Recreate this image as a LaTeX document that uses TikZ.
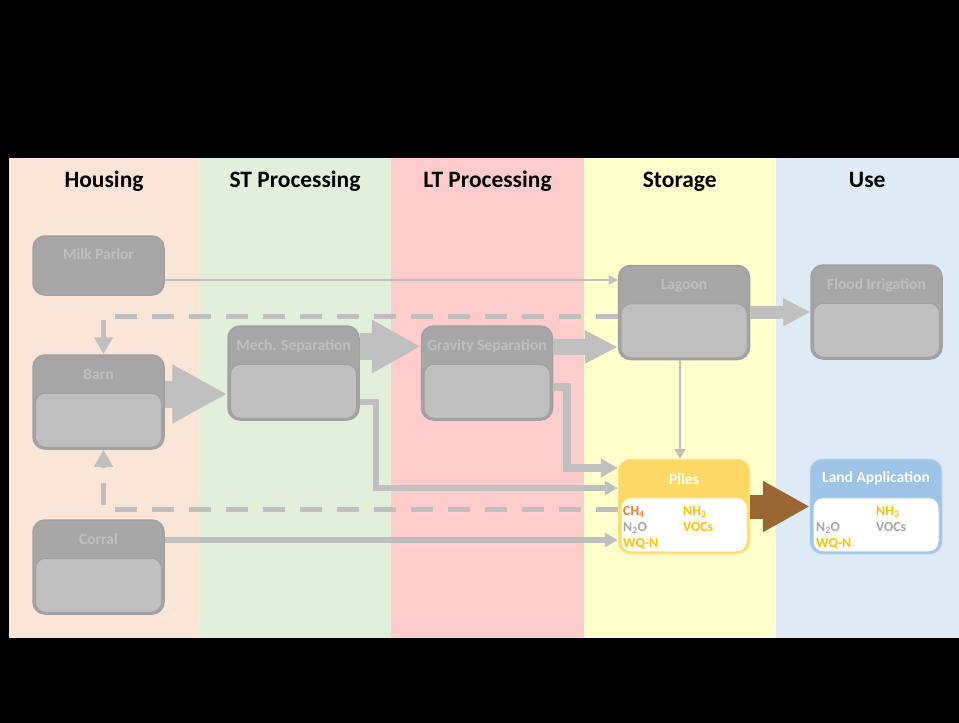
\documentclass[tikz,border=0pt]{standalone}
\usepackage{fontspec}
\setmainfont{Carlito}
\usetikzlibrary{arrows.meta}

\definecolor{colhousing}{HTML}{FBE5D6}
\definecolor{colst}{HTML}{E2EFDA}
\definecolor{collt}{HTML}{FFCCCC}
\definecolor{colstorage}{HTML}{FFFFCC}
\definecolor{coluse}{HTML}{DEEBF7}
\definecolor{boxdark}{HTML}{A6A6A6}
\definecolor{boxedge}{HTML}{A0A0A0}
\definecolor{boxlight}{HTML}{BFBFBF}
\definecolor{arrowgrey}{HTML}{BFBFBF}
\definecolor{pilehead}{HTML}{FFD966}
\definecolor{pileedge}{HTML}{FFE180}
\definecolor{landhead}{HTML}{9DC3E6}
\definecolor{landedge}{HTML}{A9CBEA}
\definecolor{gasorange}{HTML}{ED7D31}
\definecolor{gasyellow}{HTML}{FFC000}
\definecolor{gasgrey}{HTML}{A6A6A6}
\definecolor{manure}{HTML}{996633}

\tikzset{
  colhead/.style={font=\fontsize{23.5}{26}\selectfont\bfseries, text=black, anchor=base},
  outerbox/.style={rounded corners=12pt, fill=boxdark, draw=boxedge, line width=1.5pt,
    minimum width=131pt, minimum height=94pt, inner sep=0pt},
  innerbox/.style={rounded corners=10pt, fill=boxlight, draw=boxedge, line width=1pt,
    minimum width=126pt, minimum height=54pt, inner sep=0pt, anchor=south},
  boxlabel/.style={font=\fontsize{15.5}{17}\selectfont\bfseries, text=boxlight, anchor=base},
  gas/.style={font=\fontsize{13.8}{15}\selectfont\bfseries, anchor=base west, inner sep=0pt},
  bigarrow/.style n args={3}{draw=arrowgrey, line width=#1, -{Triangle[length=#2, width=#3]}},
  pipe/.style n args={3}{draw=arrowgrey, line width=#1, -{Triangle[length=#2, width=#3]}},
  dashline/.style={draw=arrowgrey, line width=5pt, dash pattern=on 22pt off 15pt,
    -{Triangle[length=17pt, width=18pt]}}
}

\begin{document}
\begin{tikzpicture}[x=1pt,y=-1pt]
\fill[black] (0,0) rectangle (959,723);

% stage columns
\foreach \xa/\xb/\col/\t in {9/199/colhousing/Housing, 199/391/colst/ST Processing,
    391/584/collt/LT Processing, 584/775.5/colstorage/Storage, 775.5/959/coluse/Use}{
  \fill[\col] (\xa,158) rectangle (\xb,638);
  \node[colhead] (head-\col) at ({(\xa+\xb)/2},187) {\t};
}

% grey process boxes
\node[outerbox, minimum height=59pt] (milk) at (98.5,265.5) {};
\node[boxlabel] (milk-lbl) at ([yshift=-24pt]milk.north) {Milk Parlor};
\foreach \n/\x/\y/\t in {barn/98.5/402/Barn, corral/98.5/567/Corral,
    mech/293.5/373/Mech. Separation, grav/487/373/Gravity Separation,
    lagoon/684/312.5/Lagoon, flood/876.5/312/Flood Irrigation}{
  \node[outerbox] (\n) at (\x,\y) {};
  \node[innerbox] (\n-in) at ([yshift=2pt]\n.south) {};
  \node[boxlabel] (\n-lbl) at ([yshift=-25pt]\n.north) {\t};
}

% piles and land application
\node[outerbox, fill=pilehead, draw=pileedge] (piles) at (684,506.5) {};
\node[innerbox, fill=white, draw=pileedge] (piles-in) at ([yshift=2pt]piles.south) {};
\node[boxlabel, text=white] (piles-lbl) at ([yshift=-26pt]piles.north) {Piles};
\node[outerbox, fill=landhead, draw=landedge] (land) at (876,506.5) {};
\node[innerbox, fill=white, draw=landedge] (land-in) at ([yshift=2pt]land.south) {};
\node[boxlabel, text=white] (land-lbl) at ([yshift=-24pt]land.north) {Land Application};

\node[gas, text=gasorange] (p-ch4) at (623,515) {CH\textsubscript{4}};
\node[gas, text=gasyellow] (p-nh3) at (683,515) {NH\textsubscript{3}};
\node[gas, text=gasgrey] (p-n2o) at (623,531) {N\textsubscript{2}O};
\node[gas, text=gasyellow] (p-voc) at (683,531) {VOCs};
\node[gas, text=gasyellow] (p-wqn) at (623,547) {WQ-N};
\node[gas, text=gasyellow] (l-nh3) at (876,515) {NH\textsubscript{3}};
\node[gas, text=gasgrey] (l-n2o) at (816,531) {N\textsubscript{2}O};
\node[gas, text=gasgrey] (l-voc) at (876,531) {VOCs};
\node[gas, text=gasyellow] (l-wqn) at (816,547) {WQ-N};

% flows
\draw[draw=arrowgrey, line width=1.2pt, -{Triangle[length=9pt, width=9pt]}]
  ([yshift=-14.5pt]milk.east) -- ([yshift=32.5pt]lagoon.west);
\draw[dashline] ([yshift=-4pt]lagoon.west) -| ([xshift=5pt]barn.north);
\draw[dashline] ([yshift=-2.5pt]piles.west) -| ([xshift=5pt]barn.south);
\draw[bigarrow={27pt}{55pt}{55pt}] ([yshift=8pt]barn.east) -- ([yshift=-21pt]mech.west);
\draw[bigarrow={27pt}{49pt}{50pt}] ([yshift=26.5pt]mech.east) -- ([yshift=26.5pt]grav.west);
\draw[bigarrow={16pt}{33pt}{31pt}] ([yshift=26pt]grav.east) -- ([yshift=-34.5pt]lagoon.west);
\draw[bigarrow={13pt}{27pt}{26pt}] (lagoon.east) -- (flood.west);
\draw[draw=arrowgrey, line width=2pt, -{Triangle[length=10pt, width=11pt]}]
  ([xshift=-4pt]lagoon.south) -- ([xshift=-4pt]piles.north);
\draw[pipe={8pt}{17pt}{18pt}] ([yshift=-14pt]grav.east) -| (566.5,468)
  -- ([yshift=38.5pt]piles.west);
\draw[pipe={6.5pt}{13pt}{14pt}] ([yshift=-29pt]mech.east) -| (376,488)
  -- ([yshift=18.5pt]piles.west);
\draw[pipe={6.5pt}{13pt}{14pt}] ([yshift=27pt]corral.east) -- ([yshift=-33.5pt]piles.west);
\draw[draw=manure, line width=24pt, -{Triangle[length=47pt, width=48pt]}]
  (piles.east) -- (land.west);
\end{tikzpicture}
\end{document}
